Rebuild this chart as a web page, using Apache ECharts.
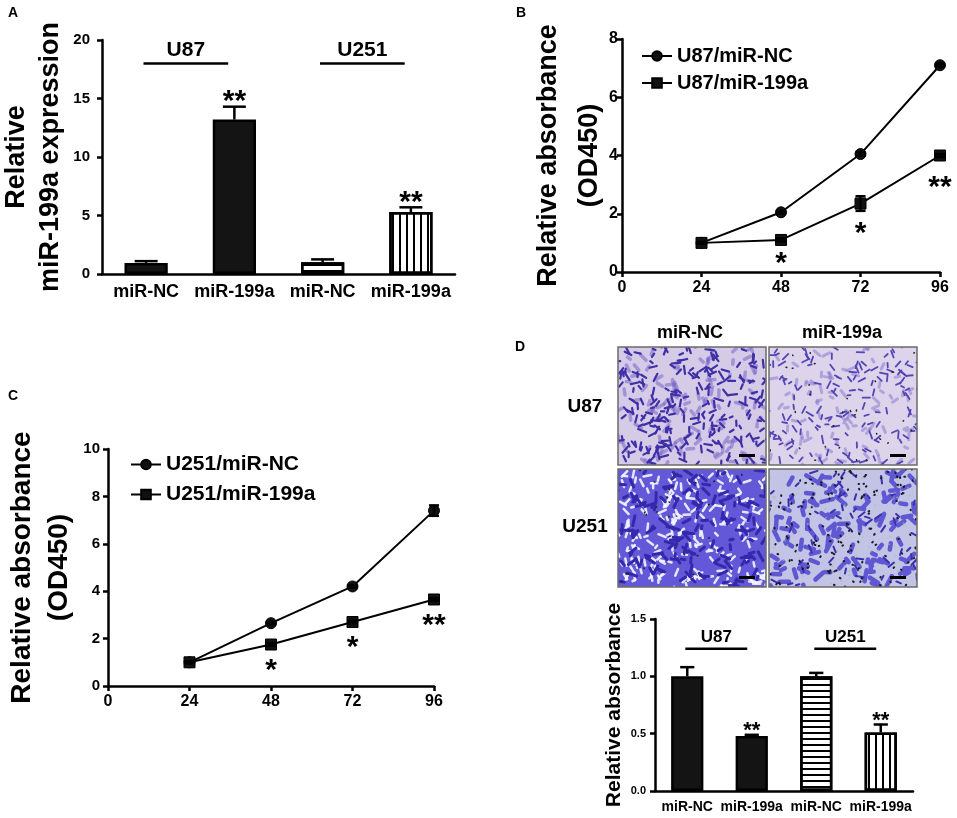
<!doctype html>
<html lang="en">
<head>
<meta charset="UTF-8">
<title>miR-199a</title>
<script src="https://cdn.jsdelivr.net/npm/echarts@6/dist/echarts.min.js"></script>
<style>
html, body { margin: 0; padding: 0; background: #fff; }
#main { width: 957px; height: 818px; }
</style>
</head>
<body>
<div id="main"></div>
<script>
var FONT = '"Liberation Sans", Arial, sans-serif';

// A: relative miR-199a expression
var barCats = ['miR-NC', 'miR-199a', 'miR-NC', 'miR-199a'];
var exprMean = [0.95, 13.2, 1.0, 5.3];
var exprErr = [0.15, 1.1, 0.25, 0.4];
var exprStars = ['', '**', '', '**'];
var groupNames = ['U87', 'U251'];

// B / C: OD450 over time
var hours = [24, 48, 72, 96];
var u87NC = [1.0, 2.05, 4.05, 7.1];
var u87NCErr = [0.03, 0.05, 0.06, 0.05];
var u87Mi = [1.0, 1.1, 2.35, 4.0];
var u87MiErr = [0.03, 0.05, 0.25, 0.05];
var u87Stars = ['', '*', '*', '**'];
var u251NC = [1.0, 2.65, 4.2, 7.4];
var u251NCErr = [0.03, 0.05, 0.05, 0.22];
var u251Mi = [1.0, 1.75, 2.7, 3.65];
var u251MiErr = [0.03, 0.05, 0.05, 0.05];
var u251Stars = ['', '*', '*', '**'];

// D: transwell relative absorbance
var invMean = [1.0, 0.48, 1.0, 0.51];
var invErr = [0.08, 0.01, 0.03, 0.07];
var invStars = ['', '**', '', '**'];
var photoCols = ['miR-NC', 'miR-199a'];
var photoRows = ['U87', 'U251'];

var hStripe = { symbol: 'rect', symbolSize: 1, dashArrayX: [1, 0], dashArrayY: [1.5, 4], color: '#000' };
var vStripe = { symbol: 'rect', symbolSize: 1, dashArrayX: [1.5, 5], dashArrayY: [1, 0], color: '#000' };
var barLook = [
    { color: '#141414' },
    { color: '#141414' },
    { color: '#fff', decal: hStripe },
    { color: '#fff', decal: vStripe }
];

var myChart = echarts.init(document.getElementById('main'));

function boldText(size) {
    return { fontFamily: FONT, fontWeight: 'bold', fontSize: size, color: '#000' };
}

function makeXCat(grid, size) {
    return {
        type: 'category', gridIndex: grid, data: barCats,
        axisLine: { lineStyle: { color: '#000', width: 2.5 } },
        axisTick: { show: false },
        axisLabel: Object.assign({ margin: 9, interval: 0 }, boldText(size))
    };
}

function makeXVal(grid) {
    return {
        type: 'value', gridIndex: grid, min: 0, max: 96, interval: 24,
        splitLine: { show: false },
        axisLine: { onZero: false, lineStyle: { color: '#000', width: 2.5 } },
        axisTick: { length: 5, lineStyle: { width: 2.5 } },
        axisLabel: Object.assign({ margin: 8 }, boldText(16))
    };
}

function makeY(grid, max, interval, name, nameSize, nameGap, lineHeight, labelSize, labelMargin, fmt) {
    return {
        type: 'value', gridIndex: grid, min: 0, max: max, interval: interval,
        splitLine: { show: false },
        axisLine: { show: true, lineStyle: { color: '#000', width: 2.5 } },
        axisTick: { show: true, length: 5, lineStyle: { width: 2.5 } },
        axisLabel: Object.assign({ margin: labelMargin, formatter: fmt }, boldText(labelSize)),
        name: name, nameLocation: 'middle', nameRotate: 90, nameGap: nameGap, nameMoveOverlap: false,
        nameTextStyle: { fontFamily: FONT, fontWeight: 'bold', fontSize: nameSize, color: '#000', lineHeight: lineHeight }
    };
}

// error bar drawn upward only (bar panels)
function barErrSeries(grid, means, errs, capRatio) {
    return {
        type: 'custom', xAxisIndex: grid, yAxisIndex: grid, silent: true, z: 4,
        data: means.map(function (m, i) { return [i, m, errs[i]]; }),
        renderItem: function (params, api) {
            var x = api.value(0), m = api.value(1), e = api.value(2);
            var top = api.coord([x, m + e]);
            var base = api.coord([x, m]);
            var half = api.size([1, 0])[0] * capRatio;
            var st = { stroke: '#000', lineWidth: 2.5 };
            return {
                type: 'group', children: [
                    { type: 'line', shape: { x1: top[0], y1: base[1], x2: top[0], y2: top[1] }, style: st },
                    { type: 'line', shape: { x1: top[0] - half, y1: top[1], x2: top[0] + half, y2: top[1] }, style: st }
                ]
            };
        }
    };
}

// error bar both ways (line panels)
function lineErrSeries(grid, xs, means, errs) {
    return {
        type: 'custom', xAxisIndex: grid, yAxisIndex: grid, silent: true, z: 4,
        data: means.map(function (m, i) { return [xs[i], m, errs[i]]; }),
        renderItem: function (params, api) {
            var x = api.value(0), m = api.value(1), e = api.value(2);
            var hi = api.coord([x, m + e]);
            var lo = api.coord([x, m - e]);
            var st = { stroke: '#000', lineWidth: 2.5 };
            return {
                type: 'group', children: [
                    { type: 'line', shape: { x1: hi[0], y1: lo[1], x2: hi[0], y2: hi[1] }, style: st },
                    { type: 'line', shape: { x1: hi[0] - 5, y1: hi[1], x2: hi[0] + 5, y2: hi[1] }, style: st },
                    { type: 'line', shape: { x1: lo[0] - 5, y1: lo[1], x2: lo[0] + 5, y2: lo[1] }, style: st }
                ]
            };
        }
    };
}

// significance stars, shift = pixel offsets from the anchor value
function starSeries(grid, points, labels, shift, size) {
    return {
        type: 'custom', xAxisIndex: grid, yAxisIndex: grid, silent: true, z: 6,
        data: points,
        renderItem: function (params, api) {
            var p = api.coord([api.value(0), api.value(1)]);
            var dy = Array.isArray(shift) ? shift[params.dataIndex] : shift;
            return {
                type: 'text', x: p[0], y: p[1] + dy,
                style: { text: labels[params.dataIndex], fill: '#000', font: 'bold ' + size + 'px ' + FONT, align: 'center', verticalAlign: 'middle' }
            };
        }
    };
}

// group bracket over two bars
function groupSeries(grid, lineY, size) {
    return {
        type: 'custom', xAxisIndex: grid, yAxisIndex: grid, silent: true, z: 6,
        data: groupNames.map(function (g, i) { return [i * 2, lineY]; }),
        renderItem: function (params, api) {
            var a = api.coord([api.value(0), api.value(1)]);
            var b = api.coord([api.value(0) + 1, api.value(1)]);
            var band = api.size([1, 0])[0];
            var x1 = a[0] - band * 0.03, x2 = b[0] - band * 0.07;
            return {
                type: 'group', children: [
                    { type: 'line', shape: { x1: x1, y1: a[1], x2: x2, y2: a[1] }, style: { stroke: '#000', lineWidth: 2.5 } },
                    { type: 'text', x: (x1 + x2) / 2, y: a[1] - 3, style: { text: groupNames[params.dataIndex], fill: '#000', font: 'bold ' + size + 'px ' + FONT, align: 'center', verticalAlign: 'bottom' } }
                ]
            };
        }
    };
}

function lineSeries(grid, name, ys, symbol) {
    return {
        type: 'line', name: name, xAxisIndex: grid, yAxisIndex: grid, z: 3,
        data: ys.map(function (v, i) { return [hours[i], v]; }),
        symbol: symbol, symbolSize: 11, showSymbol: true,
        lineStyle: { color: '#000', width: 2 },
        itemStyle: { color: '#111', borderColor: '#000', borderWidth: 1 }
    };
}

function barSeries(grid, means, width) {
    return {
        type: 'bar', xAxisIndex: grid, yAxisIndex: grid, barWidth: width, z: 2,
        itemStyle: { borderColor: '#000', borderWidth: 2.5 },
        data: means.map(function (v, i) { return { value: v, itemStyle: barLook[i] }; })
    };
}

function panelLetter(letter, x, y) {
    return { type: 'text', left: x, top: y, style: { text: letter, fill: '#000', font: 'bold 14px ' + FONT } };
}

// stained-cell look for the transwell tiles (fixed, hash-based streaks)
function hash(n) {
    var s = Math.sin(n * 127.1 + 311.7) * 43758.5453;
    return s - Math.floor(s);
}
function stainTile(seed, bg, layers) {
    var c = document.createElement('canvas');
    c.width = 148; c.height = 118;
    var g = c.getContext('2d');
    g.fillStyle = bg;
    g.fillRect(0, 0, 148, 118);
    g.lineCap = 'round';
    layers.forEach(function (L, li) {
        g.strokeStyle = L.color;
        g.lineWidth = L.width;
        for (var k = 0; k < L.count; k++) {
            var n = seed * 1000 + li * 300 + k;
            var x = hash(n) * 148, y = hash(n + 0.37) * 118;
            var a = hash(n + 0.71) * Math.PI * 2;
            var len = L.len[0] + hash(n + 0.13) * (L.len[1] - L.len[0]);
            g.beginPath();
            g.moveTo(x, y);
            g.lineTo(x + Math.cos(a) * len, y + Math.sin(a) * len);
            g.stroke();
        }
    });
    return c;
}
var tiles = [
    [
        stainTile(1, '#d6cbe7', [
            { color: 'rgba(120,100,200,0.55)', width: 3.5, count: 120, len: [3, 8] },
            { color: '#3f30a6', width: 2.2, count: 230, len: [3, 9] }
        ]),
        stainTile(2, '#ddd3ea', [
            { color: 'rgba(130,115,205,0.5)', width: 3, count: 90, len: [3, 8] },
            { color: '#5345b6', width: 1.8, count: 150, len: [3, 8] },
            { color: '#222', width: 1.5, count: 30, len: [0.5, 1] }
        ])
    ],
    [
        stainTile(3, '#6258d8', [
            { color: 'rgba(245,245,255,0.9)', width: 2.5, count: 220, len: [3, 8] },
            { color: '#3528ad', width: 3, count: 150, len: [3, 10] },
            { color: '#222', width: 1.5, count: 25, len: [0.5, 1] }
        ]),
        stainTile(4, '#c3c3e6', [
            { color: '#6058d3', width: 4.5, count: 110, len: [4, 12] },
            { color: '#3a2fae', width: 2, count: 60, len: [3, 8] },
            { color: '#1c1c2c', width: 2, count: 140, len: [0.5, 1] },
            { color: 'rgba(150,200,150,0.6)', width: 1.5, count: 80, len: [0.5, 1] }
        ])
    ]
];
var photoGraphics = [];
photoRows.forEach(function (r, ri) {
    photoCols.forEach(function (c, ci) {
        var x = 618 + ci * 151, y = 347 + ri * 122;
        photoGraphics.push({ type: 'image', style: { image: tiles[ri][ci], x: x, y: y, width: 148, height: 118 } });
        photoGraphics.push({ type: 'rect', shape: { x: x, y: y, width: 148, height: 118 }, style: { fill: null, stroke: '#6b6b6b', lineWidth: 1.5 } });
        photoGraphics.push({ type: 'rect', shape: { x: x + 121, y: y + 107, width: 16, height: 3 }, style: { fill: '#000' } });
    });
});
photoCols.forEach(function (c, ci) {
    photoGraphics.push({ type: 'text', x: 690 + ci * 152, y: 333, style: { text: c, fill: '#000', font: 'bold 18px ' + FONT, align: 'center', verticalAlign: 'middle' } });
});
photoRows.forEach(function (r, ri) {
    photoGraphics.push({ type: 'text', x: 585, y: 407 + ri * 120, style: { text: r, fill: '#000', font: 'bold 19px ' + FONT, align: 'center', verticalAlign: 'middle' } });
});

var oneDecimal = function (v) { return v.toFixed(1); };

var option = {
    animation: false,
    backgroundColor: '#fff',
    grid: [
        { left: 102, top: 40, width: 353, height: 234, outerBoundsMode: 'none' },
        { left: 622, top: 39, width: 318, height: 233, outerBoundsMode: 'none' },
        { left: 108, top: 449, width: 326, height: 237, outerBoundsMode: 'none' },
        { left: 655, top: 619, width: 258, height: 172, outerBoundsMode: 'none' }
    ],
    xAxis: [makeXCat(0, 18), makeXVal(1), makeXVal(2), makeXCat(3, 14)],
    yAxis: [
        makeY(0, 20, 5, 'Relative\nmiR-199a expression', 27, 34, 34, 15, 12),
        makeY(1, 8, 2, 'Relative absorbance\n(OD450)', 27, 12, 41, 16, 4),
        makeY(2, 10, 2, 'Relative absorbance\n(OD450)', 28, 30, 37, 15, 8),
        makeY(3, 1.5, 0.5, 'Relative absorbance', 21, 29, 24, 11, 9, oneDecimal)
    ],
    legend: [
        {
            data: ['U87/miR-NC', 'U87/miR-199a'], orient: 'vertical', left: 636, top: 41,
            itemWidth: 30, itemHeight: 12, itemGap: 7, textStyle: boldText(20)
        },
        {
            data: ['U251/miR-NC', 'U251/miR-199a'], orient: 'vertical', left: 125, top: 449,
            itemWidth: 30, itemHeight: 12, itemGap: 9, textStyle: boldText(21)
        }
    ],
    graphic: [
        panelLetter('A', 8, 6),
        panelLetter('B', 516, 6),
        panelLetter('C', 8, 389),
        panelLetter('D', 515, 340)
    ].concat(photoGraphics),
    series: [
        // A
        barSeries(0, exprMean, '49%'),
        barErrSeries(0, exprMean, exprErr, 0.13),
        starSeries(0, exprMean.map(function (m, i) { return [i, m + exprErr[i]]; }), exprStars, -5, 30),
        groupSeries(0, 18, 21),
        // B
        lineSeries(1, 'U87/miR-NC', u87NC, 'circle'),
        lineSeries(1, 'U87/miR-199a', u87Mi, 'rect'),
        lineErrSeries(1, hours, u87NC, u87NCErr),
        lineErrSeries(1, hours, u87Mi, u87MiErr),
        starSeries(1, hours.map(function (h, i) { return [h, u87Mi[i]]; }), u87Stars, [0, 24, 30, 32], 30),
        // C
        lineSeries(2, 'U251/miR-NC', u251NC, 'circle'),
        lineSeries(2, 'U251/miR-199a', u251Mi, 'rect'),
        lineErrSeries(2, hours, u251NC, u251NCErr),
        lineErrSeries(2, hours, u251Mi, u251MiErr),
        starSeries(2, hours.map(function (h, i) { return [h, u251Mi[i]]; }), u251Stars, 26, 30),
        // D
        barSeries(3, invMean, '50%'),
        barErrSeries(3, invMean, invErr, 0.11),
        starSeries(3, invMean.map(function (m, i) { return [i, m + invErr[i]]; }), invStars, -4, 22),
        groupSeries(3, 1.24, 17)
    ]
};

myChart.setOption(option);
</script>
</body>
</html>
